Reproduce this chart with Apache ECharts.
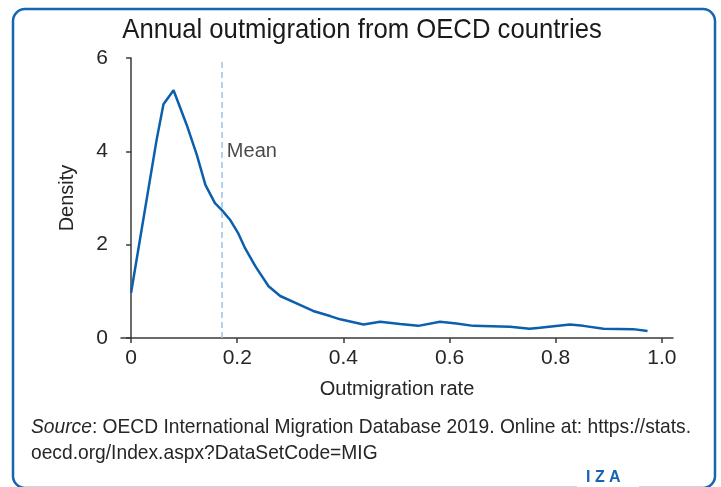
<!DOCTYPE html>
<html>
<head>
<meta charset="utf-8">
<script src="https://cdn.jsdelivr.net/npm/echarts@6/dist/echarts.min.js"></script>
<style>
html,body{margin:0;padding:0;background:#fff;}
#chart{width:721px;height:487px;}
</style>
</head>
<body>
<div id="chart"></div>
<script>
var titleText = 'Annual outmigration from OECD countries';
var xName = 'Outmigration rate';
var yName = 'Density';
var xTicks = [0, 0.2, 0.4, 0.6, 0.8, 1.0];
var yTicks = [0, 2, 4, 6];
var rateX = [0.0, 0.048, 0.061, 0.080, 0.105, 0.124, 0.140, 0.158, 0.171, 0.186, 0.202, 0.215, 0.234, 0.259, 0.281, 0.318, 0.343, 0.375, 0.394, 0.438, 0.469, 0.507, 0.541, 0.582, 0.613, 0.645, 0.714, 0.751, 0.770, 0.827, 0.852, 0.890, 0.946, 0.973];
var densityY = [0.97, 4.24, 5.01, 5.31, 4.56, 3.92, 3.28, 2.89, 2.74, 2.54, 2.24, 1.92, 1.54, 1.11, 0.90, 0.71, 0.58, 0.47, 0.40, 0.29, 0.35, 0.30, 0.26, 0.35, 0.31, 0.26, 0.24, 0.20, 0.22, 0.29, 0.26, 0.20, 0.19, 0.15];
var meanRate = 0.171;
var meanLabel = 'Mean';
var meanLabelY = 4.0;
var sourceItalic = 'Source';
var sourceLine1 = ': OECD International Migration Database 2019. Online at: https://stats.';
var sourceLine2 = 'oecd.org/Index.aspx?DataSetCode=MIG';
var logoText = 'I Z A';

var FONT = '"Liberation Sans", Arial, sans-serif';
var TXT = '#262626';
var AX = '#3a3a3a';
var BLUE = '#0b5fad';

var pts = rateX.map(function (x, i) { return [x, densityY[i]]; });

var chart = echarts.init(document.getElementById('chart'), null, {renderer: 'canvas'});
chart.setOption({
  animation: false,
  backgroundColor: '#fff',
  textStyle: {fontFamily: FONT},
  grid: {left: 121, right: 48, top: 58, bottom: 149, containLabel: false},
  xAxis: {
    type: 'value',
    min: -0.019,
    max: 1.021,
    name: xName,
    nameLocation: 'middle',
    nameGap: 41,
    nameTextStyle: {fontFamily: FONT, fontSize: 20, color: TXT},
    splitLine: {show: false},
    axisLine: {show: true, onZero: false, lineStyle: {color: AX, width: 1.5}},
    axisTick: {show: true, customValues: xTicks, length: 5, lineStyle: {color: AX, width: 1.5}},
    axisLabel: {
      customValues: xTicks,
      margin: 10,
      fontFamily: FONT, fontSize: 21, color: TXT,
      formatter: function (v) { return v === 0 ? '0' : v.toFixed(1); }
    }
  },
  yAxis: {
    type: 'value',
    min: 0,
    max: 6,
    interval: 2,
    name: yName,
    nameLocation: 'middle',
    nameRotate: 90,
    nameGap: 44,
    nameTextStyle: {fontFamily: FONT, fontSize: 20, color: TXT},
    splitLine: {show: false},
    axisLine: {show: true, lineStyle: {color: AX, width: 1.5}},
    axisTick: {show: true, length: 5, lineStyle: {color: AX, width: 1.5}},
    axisLabel: {margin: 13, fontFamily: FONT, fontSize: 21, color: TXT}
  },
  series: [
    {
      type: 'line',
      data: pts,
      showSymbol: false,
      smooth: false,
      lineStyle: {color: BLUE, width: 2.5},
      itemStyle: {color: BLUE},
      z: 3,
      markLine: {
        silent: true,
        symbol: ['none', 'none'],
        label: {show: false},
        lineStyle: {color: '#9cc2e4', type: [6, 4], width: 1.5},
        data: [{xAxis: meanRate}]
      }
    },
    {
      type: 'scatter',
      data: [[meanRate, meanLabelY]],
      symbolSize: 0,
      silent: true,
      label: {
        show: true,
        position: 'right',
        distance: 5,
        formatter: meanLabel,
        fontFamily: FONT, fontSize: 20, color: '#1a1a1a'
      }
    }
  ],
  graphic: [
    {
      type: 'text',
      x: 362, y: 30,
      scaleX: 0.917,
      style: {text: titleText, fontFamily: FONT, fontSize: 28, fill: '#1a1a1a', align: 'center', verticalAlign: 'middle'},
      z: 12
    },
    {
      type: 'rect',
      shape: {x: 13, y: 9, width: 702, height: 479, r: 12},
      style: {fill: 'none', stroke: '#1565b0', lineWidth: 2.5},
      z: 10
    },
    {
      type: 'rect',
      shape: {x: 577, y: 470, width: 62, height: 20},
      style: {fill: '#fff'},
      z: 11
    },
    {
      type: 'text',
      x: 586, y: 478,
      style: {text: logoText, fontFamily: FONT, fontSize: 16, fontWeight: 'bold', fill: '#1565b0', verticalAlign: 'middle'},
      z: 12
    },
    {
      type: 'text',
      x: 31, y: 414,
      scaleX: 0.915,
      style: {
        text: '{i|' + sourceItalic + '}{n|' + sourceLine1 + '}\n{n|' + sourceLine2 + '}',
        verticalAlign: 'top',
        lineHeight: 26,
        rich: {
          i: {fontFamily: FONT, fontSize: 21, fontStyle: 'italic', fill: TXT, lineHeight: 26},
          n: {fontFamily: FONT, fontSize: 21, fill: TXT, lineHeight: 26}
        }
      },
      z: 12
    }
  ]
});
</script>
</body>
</html>
